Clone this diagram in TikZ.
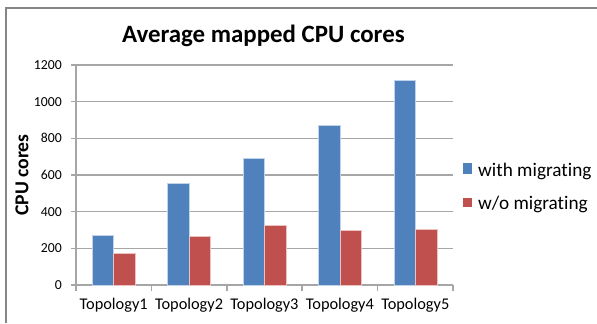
\documentclass[tikz,border=0pt]{standalone}
\usepackage{fontspec}
\setmainfont[Ligatures=NoCommon]{Carlito}
\definecolor{withblue}{HTML}{4F81BD}
\definecolor{woutred}{HTML}{C0504D}
\definecolor{gridgray}{HTML}{A6A6A6}
\definecolor{framegray}{HTML}{868686}

\begin{document}
\begin{tikzpicture}[x=1bp,y=1bp,
		gridline/.style={gridgray,line width=1.3bp},
		axisline/.style={gridgray,line width=1.5bp},
		ticklabel/.style={anchor=east,inner sep=0pt,font=\fontsize{13.8}{15}\selectfont},
		catlabel/.style={anchor=base,inner sep=0pt,font=\fontsize{16.4}{18}\selectfont},
		legtext/.style={anchor=base west,inner sep=0pt,font=\fontsize{19.3}{22}\selectfont},
		barfill/.style={fill=#1,draw=white!65!#1,line width=0.5bp}]
	\useasboundingbox (0,0) rectangle (597,323);
	% outer chart frame (only top and left edges show)
	\draw [framegray,line width=1.5bp] (597,315) -- (6,315) -- (6,0);
	\node [anchor=base,inner sep=0pt,font=\bfseries\fontsize{25}{30}\selectfont] (title) at (263.4,281) {Average mapped CPU cores};
	\node [anchor=base,rotate=90,inner sep=0pt,font=\bfseries\fontsize{19.8}{22}\selectfont] (ylabel) at (28.3,148) {CPU cores};
	\begin{scope}[shift={(76,38)},x=75.4bp,y=0.18333bp]
		% grid and value labels
		\foreach \v in {0,200,...,1200} {
			\draw [gridline] (-0.066,\v) -- (5,\v);
			\node [ticklabel] (t\v) at (-0.186,\v) {\v};
		}
		\draw [axisline] (0,0) -- (0,1200);
		\foreach \i in {0,...,5}
			\draw [axisline] (\i,0) -- +(0bp,-6bp);
		% bars: with / without migrating
		\foreach \i/\a/\b in {0/270/175,1/553/266,2/691/324,3/874/300,4/1116/305} {
			\draw [barfill=withblue] (\i+0.215,0) rectangle (\i+0.5,\a);
			\draw [barfill=woutred] (\i+0.5,0) rectangle (\i+0.785,\b);
		}
		\foreach \i [evaluate=\i as \n using int(\i+1)] in {0,...,4}
			\node [catlabel,yshift=-24bp] (cat\n) at (\i+0.5,0) {Topology\n};
	\end{scope}
	% legend
	\fill [withblue] (462.7,148.7) rectangle (472.3,159.7);
	\node [legtext] (legwith) at (478,146.5) {with migrating};
	\fill [woutred] (462.7,115.7) rectangle (472.3,125.3);
	\node [legtext] (legwo) at (478,113.7) {w/o migrating};
\end{tikzpicture}
\end{document}
